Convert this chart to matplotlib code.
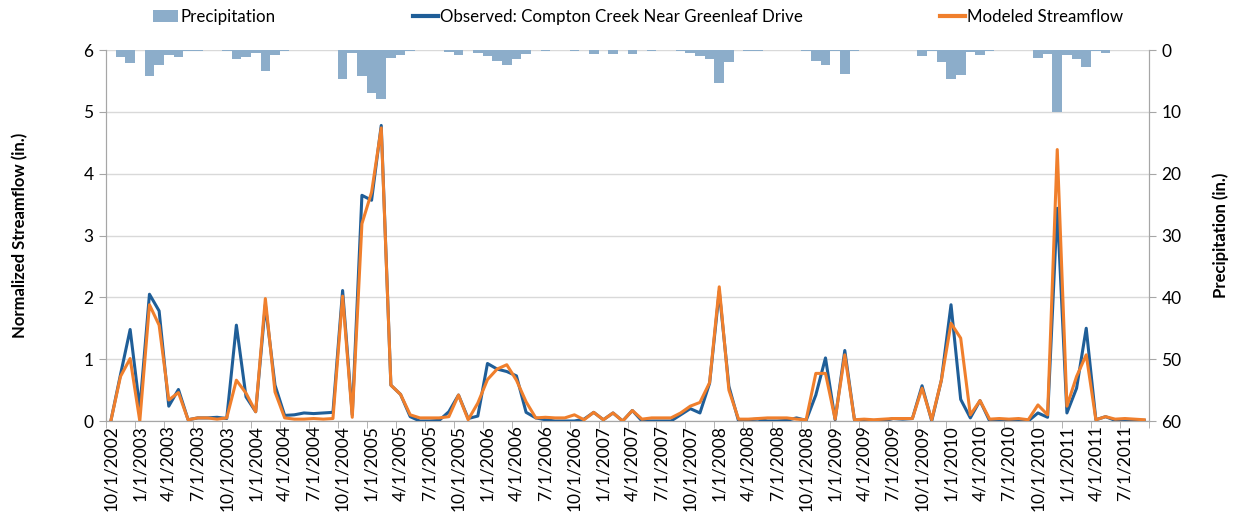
import numpy as np
import pandas as pd
import matplotlib
matplotlib.use('Agg')
import matplotlib.pyplot as plt
from matplotlib.patches import Patch
from matplotlib.lines import Line2D

plt.rcParams['font.family'] = ['Lato', 'DejaVu Sans']

# monthly series, Oct 2002 - Sep 2011
months = pd.date_range('2002-10-01', '2011-09-01', freq='MS')

observed = [0.0, 0.75, 1.48, 0.2, 2.05, 1.78, 0.24, 0.51, 0.02, 0.05, 0.05, 0.06,
            0.04, 1.55, 0.39, 0.15, 1.88, 0.58, 0.09, 0.1, 0.13, 0.12, 0.13, 0.14,
            2.11, 0.1, 3.65, 3.57, 4.78, 0.58, 0.43, 0.07, 0.0, 0.0, 0.01, 0.15,
            0.42, 0.04, 0.08, 0.93, 0.84, 0.8, 0.73, 0.14, 0.05, 0.02, 0.0, 0.0,
            0.0, 0.03, 0.14, 0.02, 0.13, 0.0, 0.17, 0.0, 0.0, 0.0, 0.0, 0.1,
            0.2, 0.13, 0.61, 2.1, 0.56, 0.0, 0.02, 0.03, 0.0, 0.0, 0.01, 0.05,
            0.01, 0.42, 1.02, 0.02, 1.14, 0.02, 0.0, 0.0, 0.0, 0.04, 0.03, 0.04,
            0.57, 0.0, 0.66, 1.88, 0.35, 0.05, 0.33, 0.0, 0.0, 0.0, 0.0, 0.0,
            0.13, 0.06, 3.44, 0.13, 0.53, 1.5, 0.02, 0.07, 0.01, 0.01, 0.01, 0.01]

modeled = [0.0, 0.72, 1.01, 0.0, 1.88, 1.55, 0.34, 0.46, 0.02, 0.05, 0.05, 0.03,
           0.05, 0.66, 0.45, 0.15, 1.98, 0.47, 0.05, 0.03, 0.03, 0.04, 0.03, 0.04,
           2.02, 0.06, 3.19, 3.7, 4.74, 0.58, 0.43, 0.1, 0.05, 0.05, 0.05, 0.07,
           0.42, 0.02, 0.29, 0.67, 0.84, 0.91, 0.66, 0.31, 0.05, 0.06, 0.05, 0.05,
           0.1, 0.02, 0.14, 0.02, 0.13, 0.0, 0.17, 0.03, 0.05, 0.05, 0.05, 0.13,
           0.24, 0.3, 0.62, 2.17, 0.5, 0.03, 0.03, 0.04, 0.05, 0.05, 0.05, 0.03,
           0.02, 0.77, 0.77, 0.03, 1.07, 0.02, 0.03, 0.02, 0.03, 0.04, 0.04, 0.04,
           0.53, 0.02, 0.66, 1.58, 1.34, 0.1, 0.33, 0.03, 0.04, 0.03, 0.04, 0.02,
           0.26, 0.1, 4.39, 0.24, 0.72, 1.07, 0.02, 0.07, 0.03, 0.04, 0.03, 0.02]

precip = [0.05, 1.19, 2.05, 0.0, 4.15, 2.43, 0.81, 1.08, 0.1, 0.1, 0.05, 0.0,
          0.1, 1.4, 1.19, 0.43, 3.4, 0.86, 0.1, 0.0, 0.0, 0.0, 0.0, 0.0,
          4.64, 0.43, 4.15, 7.0, 7.98, 1.35, 0.86, 0.1, 0.0, 0.0, 0.0, 0.27,
          0.75, 0.05, 0.54, 0.92, 1.73, 2.48, 1.4, 0.59, 0.0, 0.1, 0.0, 0.0,
          0.2, 0.0, 0.59, 0.0, 0.59, 0.0, 0.59, 0.0, 0.1, 0.0, 0.0, 0.1,
          0.43, 0.97, 1.51, 5.4, 2.0, 0.0, 0.1, 0.1, 0.0, 0.0, 0.0, 0.05,
          0.1, 1.78, 2.43, 0.1, 3.88, 0.1, 0.0, 0.0, 0.0, 0.0, 0.0, 0.0,
          0.97, 0.1, 2.0, 4.64, 4.0, 0.32, 0.86, 0.1, 0.0, 0.0, 0.0, 0.05,
          1.35, 0.59, 10.1, 0.75, 1.46, 2.7, 0.1, 0.54, 0.0, 0.0, 0.0, 0.05]

tick_labels = [f"{d.month}/1/{d.year}" for d in months[::3]]

BAR_COLOR = '#8cadca'
OBS_COLOR = '#1f5e98'
MOD_COLOR = '#f07f2c'
GRID_COLOR = '#d9d9d9'
AXIS_COLOR = '#a6a6a6'
FS = 12.5

x = np.arange(len(months))

fig = plt.figure(figsize=(12.38, 5.16), dpi=100)
ax = fig.add_axes([106/1238, 1-421/516, (1149-106)/1238, (421-50)/516])
ax2 = ax.twinx()

# precipitation bars on the (inverted) right axis, drawn underneath
ax2.bar(x, precip, width=1.0, color=BAR_COLOR, linewidth=0, zorder=2)
ax2.set_ylim(60, 0)
ax2.set_yticks(range(0, 61, 10))
ax2.set_xticks(np.arange(2.5, len(months), 3), minor=True)
ax2.grid(True, which='minor', axis='x', color=GRID_COLOR, lw=1, zorder=0)
ax2.grid(True, which='major', axis='y', color=GRID_COLOR, lw=1, zorder=0)
ax2.set_axisbelow(True)
ax2.set_ylabel('Precipitation (in.)', fontweight='bold', fontsize=12, labelpad=22)

# streamflow lines on top
ax.set_zorder(ax2.get_zorder() + 1)
ax.patch.set_visible(False)
ax.plot(x, observed, color=OBS_COLOR, lw=2.2, zorder=3)
ax.plot(x, modeled, color=MOD_COLOR, lw=2.2, zorder=4)
ax.set_ylim(0, 6)
ax.set_xlim(-0.5, len(months) - 0.5)
ax.set_yticks(range(0, 7))
ax.set_ylabel('Normalized Streamflow (in.)', fontweight='bold', fontsize=12, labelpad=40)
ax.set_xticks(x[::3])
ax.set_xticklabels(tick_labels, rotation=90)
ax.set_xticks(np.arange(-0.5, len(months), 3), minor=True)
ax.tick_params(axis='x', which='major', length=0, pad=3, labelsize=FS)
ax.tick_params(axis='x', which='minor', length=5, color=AXIS_COLOR)
ax.tick_params(axis='y', length=5, color=AXIS_COLOR, labelsize=FS, pad=4)
ax2.tick_params(axis='y', length=5, color=AXIS_COLOR, labelsize=FS, pad=4)
ax2.tick_params(axis='x', which='both', length=0)

for a in (ax, ax2):
    a.spines['top'].set_visible(False)
    for s in ('left', 'right', 'bottom'):
        a.spines[s].set_color(AXIS_COLOR)

handles = [Patch(facecolor=BAR_COLOR, edgecolor='none'),
           Line2D([], [], color=OBS_COLOR, lw=3),
           Line2D([], [], color=MOD_COLOR, lw=3)]
labels = ['Precipitation', 'Observed: Compton Creek Near Greenleaf Drive', 'Modeled Streamflow']
fig.legend(handles, labels, loc='center', bbox_to_anchor=(638/1238, 1-17/516), ncol=3,
           frameon=False, fontsize=12.2, handlelength=1.5, handletextpad=0.1,
           columnspacing=8.1, borderaxespad=0)

fig.savefig('out.png', dpi=100)
